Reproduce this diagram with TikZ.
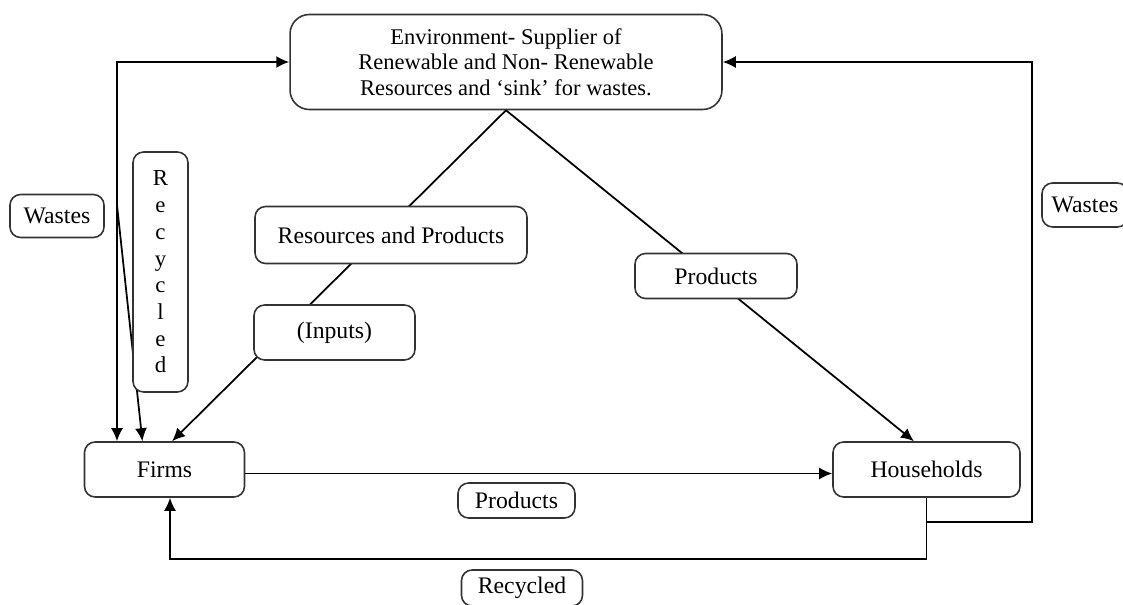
\documentclass[tikz,border=0pt]{standalone}
\usepackage{fontspec}
\setmainfont{Liberation Serif}
\usetikzlibrary{arrows.meta}

\tikzset{
  flowbox/.style={draw=black!80,rounded corners=6pt,fill=white,align=center,inner sep=0pt,line width=0.9pt},
  flowline/.style={line width=1pt},
}

\begin{document}
\begin{tikzpicture}[x=0.02cm,y=-0.02cm,>={Latex[length=0.26cm,width=0.24cm]},
  font=\fontsize{13.5}{15.5}\selectfont]
  \useasboundingbox (0,0) rectangle (1123,605);
  % main boxes
  \node[flowbox,rounded corners=11pt,minimum width=8.64cm,minimum height=1.9cm,
    font=\fontsize{12.8}{14.6}\selectfont] (env) at (506,62)
    {Environment- Supplier of\\Renewable and Non- Renewable\\Resources and ‘sink’ for wastes.};
  \node[flowbox,minimum width=3.2cm,minimum height=1.1cm] (firms) at (164.5,469.5) {Firms};
  \node[flowbox,minimum width=3.74cm,minimum height=1.1cm] (households) at (926.5,469.5) {Households};
  % helper points on the loops
  \coordinate (wl) at (117,57);
  \coordinate (ws) at (117,205);
  \coordinate (wr) at (1032,522);
  \coordinate (rl) at (170,559);
  % flows
  \draw[flowline,<->] (firms.north -| wl) |- (env.west);
  \draw[flowline,->] (ws) -- (firms.128);
  \draw[flowline,->] (env.south) -- (firms.75);
  \draw[flowline,->] (env.south) -- (households.114);
  \draw[flowline,->] ([yshift=-0.08cm]firms.east) -- ([yshift=-0.08cm]households.west);
  \draw[flowline,->] (households.south) |- (rl) -- (firms.south -| rl);
  \draw[flowline,->] (households.south |- wr) -- (wr) |- (env.east);
  % labels
  \node[flowbox,minimum width=1.88cm,minimum height=0.86cm] (wasteL) at (57,216) {Wastes};
  \node[flowbox,minimum width=1.1cm,minimum height=4.8cm,font=\fontsize{13}{15.2}\selectfont] (recycV) at (160.5,272)
    {R\\e\\c\\y\\c\\l\\e\\d};
  \node[flowbox,minimum width=5.44cm,minimum height=1.14cm] (resprod) at (391,235) {Resources and Products};
  \node[flowbox,minimum width=3.22cm,minimum height=1.1cm] (inputs) at (334.5,332.5) {(Inputs)};
  \node[flowbox,minimum width=3.24cm,minimum height=0.9cm] (prodR) at (716,276) {Products};
  \node[flowbox,minimum width=1.72cm,minimum height=0.88cm] (wasteR) at (1085,205) {Wastes};
  \node[flowbox,minimum width=2.34cm,minimum height=0.7cm] (prodB) at (516.5,500.5) {Products};
  \node[flowbox,minimum width=2.42cm,minimum height=0.72cm] (recycB) at (522,588) {Recycled};
\end{tikzpicture}
\end{document}
